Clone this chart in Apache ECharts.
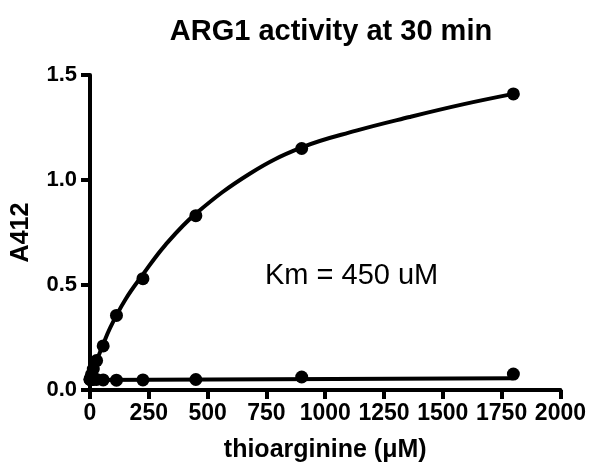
<!DOCTYPE html>
<html>
<head>
<meta charset="utf-8">
<script src="https://cdn.jsdelivr.net/npm/echarts@6/dist/echarts.min.js"></script>
<style>html,body{margin:0;padding:0;background:#fff}#c{width:589px;height:468px}</style>
</head>
<body>
<div id="c"></div>
<script>
// Substrate concentrations (µM)
var conc = [0, 3.5, 7, 14, 28, 56, 112.5, 225, 450, 900, 1800];
// Enzyme series A412
var activeY = [0.05, 0.06, 0.075, 0.10, 0.14, 0.21, 0.355, 0.53, 0.83, 1.15, 1.41];
// Control series A412
var controlY = [0.05, 0.05, 0.05, 0.05, 0.05, 0.048, 0.047, 0.048, 0.05, 0.062, 0.076];
// Fitted curve
var fitX = [0, 10, 25, 50, 85, 150, 225, 320, 450, 679, 900, 1132, 1359, 1585, 1800];
var fitY = [0.04, 0.08, 0.13, 0.20, 0.295, 0.43, 0.55, 0.69, 0.84, 1.03, 1.155, 1.235, 1.30, 1.36, 1.41];
// Control fit line
var ctrlFitX = [0, 1800];
var ctrlFitY = [0.048, 0.056];
var xTicks = [0, 250, 500, 750, 1000, 1250, 1500, 1750, 2000];
var yTicks = [0.0, 0.5, 1.0, 1.5];

function zip(a, b) { return a.map(function (v, i) { return [v, b[i]]; }); }

var chart = echarts.init(document.getElementById('c'));
var F = 'Liberation Sans, Arial, sans-serif';
chart.setOption({
  animation: false,
  backgroundColor: '#fff',
  title: {
    text: 'ARG1 activity at 30 min',
    left: 326, top: 12, textAlign: 'center',
    textStyle: { fontFamily: F, fontWeight: 'bold', fontSize: 29, color: '#000' }
  },
  grid: { left: 90, right: 28, top: 75, bottom: 78, containLabel: false },
  xAxis: {
    type: 'value', min: xTicks[0], max: xTicks[xTicks.length - 1], interval: 250,
    name: 'thioarginine (\u03bcM)', nameLocation: 'middle', nameGap: 48,
    nameTextStyle: { fontFamily: F, fontWeight: 'bold', fontSize: 25, color: '#000' },
    axisLine: { show: true, onZero: false, lineStyle: { color: '#000', width: 4 } },
    axisTick: { show: true, length: 9, lineStyle: { color: '#000', width: 4 } },
    axisLabel: { fontFamily: F, fontWeight: 'bold', fontSize: 23, color: '#000', margin: 12,
      formatter: function (v) { return String(v); } },
    splitLine: { show: false }
  },
  yAxis: {
    type: 'value', min: yTicks[0], max: yTicks[yTicks.length - 1], interval: 0.5,
    name: 'A412', nameLocation: 'middle', nameGap: 56, nameRotate: 90,
    nameTextStyle: { fontFamily: F, fontWeight: 'bold', fontSize: 25, color: '#000' },
    axisLine: { show: true, onZero: false, lineStyle: { color: '#000', width: 4 } },
    axisTick: { show: true, length: 9, lineStyle: { color: '#000', width: 4 } },
    axisLabel: { fontFamily: F, fontWeight: 'bold', fontSize: 22, color: '#000', margin: 13,
      formatter: function (v) { return v.toFixed(1); } },
    splitLine: { show: false }
  },
  graphic: [{
    type: 'text', left: 265, top: 261,
    style: { text: 'Km = 450 uM', fontFamily: F, fontSize: 29, fill: '#000' }
  }],
  series: [
    { type: 'line', data: zip(fitX, fitY), smooth: 0.4, showSymbol: false,
      lineStyle: { color: '#000', width: 4 }, z: 2 },
    { type: 'line', data: zip(ctrlFitX, ctrlFitY), showSymbol: false,
      lineStyle: { color: '#000', width: 4 }, z: 2 },
    { type: 'scatter', data: zip(conc, activeY), symbol: 'circle', symbolSize: 13,
      itemStyle: { color: '#000', opacity: 1 }, z: 3 },
    { type: 'scatter', data: zip(conc, controlY), symbol: 'circle', symbolSize: 13,
      itemStyle: { color: '#000', opacity: 1 }, z: 3 }
  ]
});
</script>
</body>
</html>
